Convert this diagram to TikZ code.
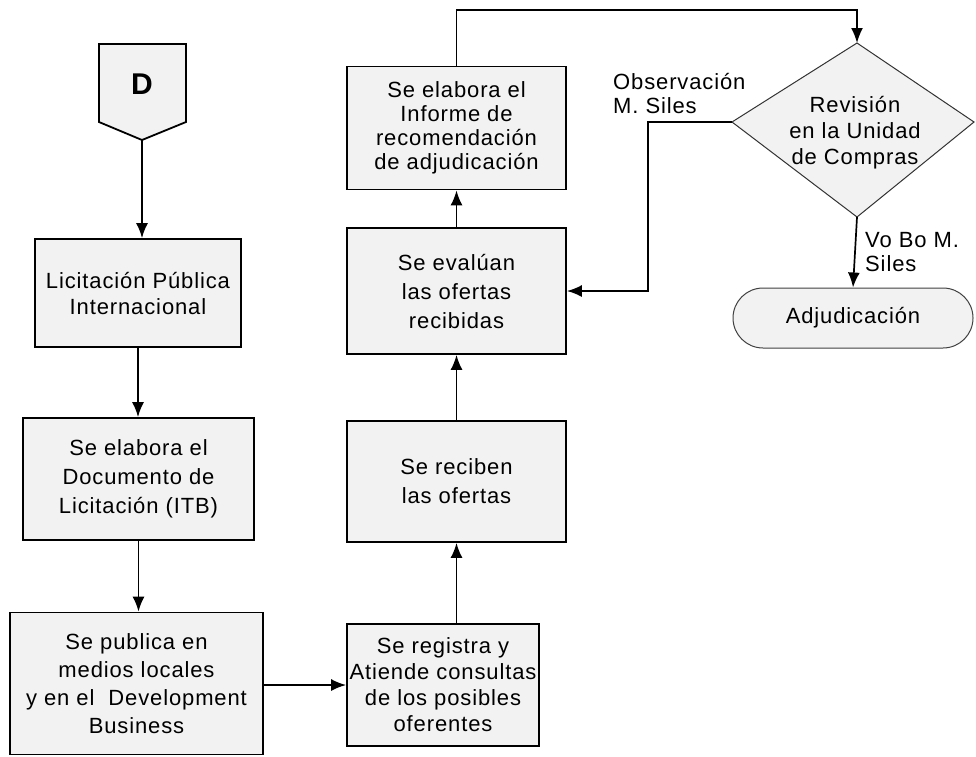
\documentclass[tikz,border=0pt]{standalone}
\usepackage{fontspec}
\setmainfont{Liberation Sans}[LetterSpace=4]
\usetikzlibrary{arrows.meta,calc}
\tikzset{
  stepbox/.style={draw, line width=1.8pt, fill=black!5, align=center, inner sep=0pt,
    font=\fontsize{22}{26}\selectfont},
  arr/.style={line width=1.7pt, -{Latex[length=15pt,width=12pt]}},
  lbl/.style={align=left, inner sep=0pt, font=\fontsize{22}{24}\selectfont},
}
\begin{document}
\begin{tikzpicture}[x=1pt,y=-1pt]
\useasboundingbox (0,0) rectangle (976,756);
% off-page connector D
\draw[line width=1.8pt, fill=black!5] (99,44) -- (186,44) -- (186,122) -- (142,140) coordinate (Dbot) -- (99,122) -- cycle;
\node[font=\bfseries\fontsize{30}{30}\selectfont] (dl) at (142,84) {D};
% boxes
\node[stepbox, minimum width=206pt, minimum height=108pt] (lic) at (138,293) {Licitación Pública\\Internacional};
\node[stepbox, minimum width=231pt, minimum height=122pt, font=\fontsize{22}{29}\selectfont] (doc) at (138.5,479) {Se elabora el\\Documento de\\Licitación (ITB)};
\node[stepbox, minimum width=253pt, minimum height=142pt, font=\fontsize{22}{28}\selectfont] (pub) at (136.5,683.5) {Se publica en\\medios locales\\y en el\ \ Development\\Business};
\node[stepbox, minimum width=192pt, minimum height=122pt] (reg) at (443,685) {Se registra y\\Atiende consultas\\de los posibles\\oferentes};
\node[stepbox, minimum width=219pt, minimum height=121pt, font=\fontsize{22}{29}\selectfont] (rec) at (456.5,481.5) {Se reciben\\las ofertas};
\node[stepbox, minimum width=219pt, minimum height=126pt, font=\fontsize{22}{29}\selectfont] (eva) at (456.5,291) {Se evalúan\\las ofertas\\recibidas};
\node[stepbox, minimum width=219pt, minimum height=123pt, font=\fontsize{22}{24}\selectfont] (inf) at (456.5,128) {Se elabora el\\Informe de\\recomendación\\de adjudicación};
% decision diamond
\draw[line width=1pt, draw=black!80, fill=black!5] (857,43) coordinate (revT) -- (732,122) coordinate (revL) -- (857,217) coordinate (revB) -- (974,122) coordinate (revR) -- cycle;
\node[align=center, inner sep=0pt, font=\fontsize{22}{26}\selectfont] (rev) at (855,133) {Revisión\\en la Unidad\\de Compras};
% terminal
\node[draw=black!75, line width=1pt, fill=black!5, rounded corners=30pt, minimum width=240pt, minimum height=60pt, inner sep=0pt, font=\fontsize{22}{26}\selectfont] (adj) at (853,318) {Adjudicación};
% labels
\node[lbl, anchor=base west] (obs) at (613,113) {Observación\\M. Siles};
\node[lbl, anchor=base west] (vobo) at (865,271) {Vo Bo M.\\Siles};
% connectors
\coordinate (topc) at (857,10);
\draw[arr] (Dbot) -- (Dbot |- lic.north);
\draw[arr] (lic.south) -- (lic.south |- doc.north);
\draw[arr] (doc.south) -- (doc.south |- pub.north);
\draw[arr] (pub.east |- reg.west) -- (reg.west);
\draw[arr] (rec.south |- reg.north) -- (rec.south);
\draw[arr] (rec.north) -- (eva.south);
\draw[arr] (eva.north) -- (inf.south);
\draw[arr] (inf.north) |- (topc) -- (revT);
\draw[arr] (revL) -- ++(-84,0) |- (eva.east);
\draw[arr] (revB) -- (adj.north);
\end{tikzpicture}
\end{document}
